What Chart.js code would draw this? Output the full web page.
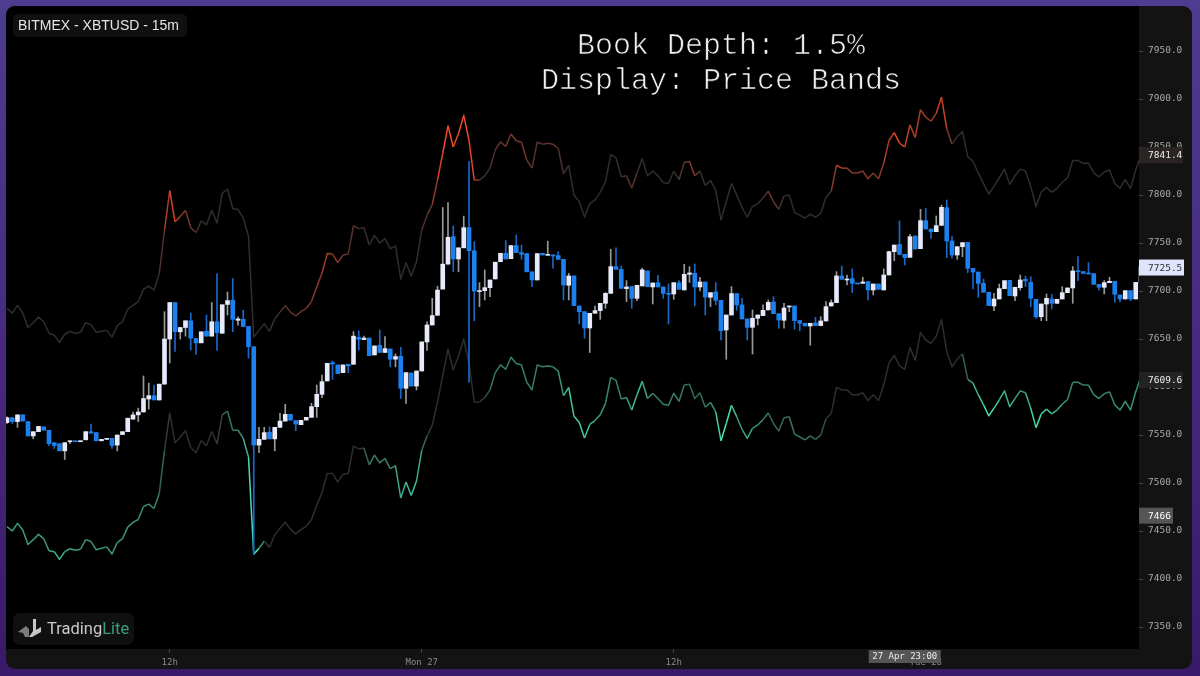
<!DOCTYPE html>
<html>
<head>
<meta charset="utf-8">
<title>Book Depth Price Bands</title>
<script src="https://cdn.jsdelivr.net/npm/chart.js@4/dist/chart.umd.min.js"></script>
<style>
	html, body { margin: 0; padding: 0; width: 1200px; height: 676px; overflow: hidden; }
	body { background: linear-gradient(to bottom, #4d3c8f 0%, #472a80 50%, #38196a 100%); }
	#panel { position: absolute; left: 6px; top: 6px; width: 1186px; height: 663px; background: #131313; border-radius: 9px; overflow: hidden; }
	#chart { position: absolute; left: -6px; top: -6px; }
</style>
</head>
<body>
<div id="panel"><canvas id="chart" width="1200" height="676"></canvas></div>
<script>
// 15m candles
const opens = [
	7563,7568,7564,7571,7564,7549,7553.5,7558.5,7555,7542,
	7541,7533.5,7543,7544,7543,7545,7553.5,7552.5,7544,7545.5,
	7546.5,7539.5,7550.5,7553.5,7566.5,7571,7574,7587.5,7591,7586.5,
	7603,7650,7688,7657.5,7662,7669,7650.5,7646,7658,7653,
	7668,7656,7686,7690.5,7669.5,7670.5,7663,7642,7539.5,7545.5,
	7553,7546,7558,7564.5,7571.5,7565,7560.8,7565.6,7568.4,7579.5,
	7592.4,7606.3,7625.4,7623,7615,7623.7,7623.7,7651.8,7649.4,7651,
	7633.4,7643.5,7636,7639.6,7629,7632,7598.7,7614.6,7601,7616.7,
	7647,7664.6,7674.7,7702,7728,7756.6,7733.4,7745,7766,7742,
	7699.4,7700.4,7703.5,7712.6,7730.6,7739.3,7733.7,7747.3,7740,7739,
	7720,7711.5,7739.3,7737.2,7737.6,7736.9,7733,7706,7715.7,7684.4,
	7678.5,7661.5,7676.8,7679.6,7687.2,7697.6,7725.4,7722.6,7702.5,7704.6,
	7692.4,7705.3,7720.9,7704.2,7708.7,7704.2,7697.6,7696.9,7708.7,7701.1,
	7717.4,7718.4,7704.2,7709.4,7693.5,7699,7690.3,7659.4,7675,7697.3,
	7685.5,7670.9,7662.2,7671.6,7674.4,7680.3,7688.6,7676.4,7669.5,7683.4,
	7684.4,7669.2,7666.4,7663.6,7666.7,7664,7668.8,7684.4,7687.9,7715.7,
	7711.5,7712.9,7708.4,7708,7709.8,7701.1,7707.3,7701.1,7716.7,7741,
	7748.6,7738.2,7735.1,7757.3,7744.1,7773.3,7764.6,7761.8,7768.4,7786.8,
	7752.1,7737.5,7746.2,7750.7,7723.6,7719.8,7708,7698.7,7684.4,7691.7,
	7702.5,7711.1,7694.8,7703.5,7712.2,7709.1,7691.4,7673.3,7686.5,7691.7,
	7687.2,7691.7,7698.3,7703.2,7720.9,7720.2,7718.4,7718.1,7707,7703.9,
	7708.7,7710.1,7695.9,7691.7,7700.4,7691.7,7709
];
const highs = [
	7569,7568,7571,7571,7564,7553.5,7559,7558.5,7555,7542,
	7541,7542,7544,7544,7544,7553.5,7561.5,7552.5,7545.5,7546.5,
	7546.5,7550,7553.5,7567.5,7574,7578,7611.5,7604,7602,7603,
	7678.5,7688,7688,7662,7669,7677,7650.5,7657.5,7675,7688,
	7718,7685.7,7699,7713,7673,7680,7663,7642,7558,7558,
	7558.5,7558,7572.5,7582,7571.5,7565,7565.3,7568.4,7583,7602,
	7612.5,7624.7,7627,7623,7623,7623.7,7657.7,7658.4,7653,7651,
	7642.8,7659.4,7652.5,7639.6,7634.4,7641.4,7615,7614.6,7616.7,7647,
	7668,7692.4,7705,7787,7792,7767.8,7745,7778,7835,7751.4,
	7708.7,7722,7711.5,7730,7739.3,7752.5,7747.3,7758.4,7748,7739,
	7720,7739,7739.3,7752,7737.6,7741,7733,7718.5,7715.7,7684.4,
	7678.5,7676.8,7684.4,7687.2,7698.3,7743.4,7745,7726,7710.8,7704.6,
	7706,7723.7,7720.9,7708.4,7716.4,7704.2,7707.3,7708.7,7710.8,7727.8,
	7725.4,7728.2,7714.3,7709.4,7698.3,7708.7,7690.3,7675,7704.6,7697.3,
	7692.4,7670.9,7680.3,7675,7685.5,7690.7,7694.1,7676.4,7687.2,7684.4,
	7684.4,7669.2,7666.4,7666.4,7672.6,7673.3,7688.9,7690.7,7720.2,7726.1,
	7716.7,7723,7708.4,7714.3,7709.8,7707.3,7707.3,7723,7741.5,7747.9,
	7772.9,7738.2,7759,7757.3,7785.1,7786.1,7764.6,7778.2,7789.6,7794.8,
	7756.6,7746.2,7750.4,7750.7,7723.6,7719.8,7712.5,7698.7,7697.6,7707.3,
	7710.8,7711.1,7703.9,7716.7,7715.7,7715,7691.4,7686.5,7696.9,7696.6,
	7691.4,7704.6,7703.2,7725.4,7735.8,7720.2,7729.5,7718.1,7707,7710.8,
	7714.3,7710.1,7695.9,7700.4,7700.4,7709,7725.5
];
const lows = [
	7562,7562,7558,7564.5,7549,7546,7553.5,7555,7539,7536,
	7533.5,7524.5,7541,7543,7543,7545,7552,7544,7544,7545.5,
	7536,7533.5,7550.5,7553.5,7566.5,7564,7574,7577,7586.5,7586.5,
	7603,7625,7637,7650,7653,7638.5,7634,7646,7653,7653,
	7638,7656,7675,7657.5,7664.5,7663,7630,7425.5,7531.5,7545.5,
	7546,7533.5,7558,7564.5,7565.5,7554.5,7560.8,7565.6,7568.4,7568.4,
	7589,7606.3,7608,7614,7615,7615,7623.7,7638.6,7649.4,7632.7,
	7633.4,7636,7636,7621,7621,7588,7583,7601,7597,7616.7,
	7638,7664.6,7674.7,7702,7728,7720,7720,7745,7605,7669,
	7683.7,7690.7,7694,7712.6,7730.6,7733.4,7733.7,7740,7733,7720,
	7704.6,7711.5,7737.6,7737.2,7723.7,7733,7690.7,7690.7,7684.8,7665.7,
	7650.8,7636,7676.8,7670.5,7682,7697.6,7722.6,7702.8,7689,7682,
	7690,7705.3,7704.6,7686.5,7704.2,7692.4,7665.7,7691.4,7701.8,7701.1,
	7709,7684.4,7700,7675,7683.7,7685.5,7649,7628.9,7675,7680,
	7670.9,7649,7634.4,7664.6,7674.4,7680.3,7676.4,7661.2,7661.2,7678.5,
	7660.1,7658.7,7663.6,7643.5,7664,7664,7668.8,7684.4,7687.9,7712.2,
	7706.3,7698.3,7707.3,7708,7690.7,7695.9,7701.8,7701.1,7716.7,7731.6,
	7738.2,7727.1,7735.1,7743.8,7744.1,7764.6,7754.9,7761.8,7768.4,7734.8,
	7734.1,7733,7735.8,7719.1,7702.1,7693.4,7698.7,7684.8,7679.6,7691.7,
	7702.5,7695.2,7690,7701,7704.6,7683.7,7671.6,7669.1,7669.1,7681.3,
	7687.2,7691.7,7698.3,7687.2,7710.8,7718.4,7717.7,7707,7701,7696.9,
	7708.7,7688.2,7688.9,7691.7,7690,7691.7,7709
];
const closes = [
	7568,7564,7571,7564.5,7549,7553.5,7559,7555,7541,7539,
	7533.5,7542,7544,7543,7544,7553.5,7552,7544,7545.5,7546.5,
	7539,7550,7553.5,7567.5,7571,7574,7588,7591,7586.5,7603,
	7650,7688,7657.5,7662,7669,7651,7646,7657.5,7653,7668,
	7656.5,7685.7,7690,7670.5,7671,7663,7642,7539.5,7545.5,7552.5,
	7546,7558,7564.5,7571.5,7565.5,7561.5,7565.3,7568.4,7579.5,7592.4,
	7605.6,7624.7,7624,7614,7623,7622,7653,7649.7,7651,7632.7,
	7642.8,7636,7640,7629,7631.7,7598.7,7615,7601,7616.7,7647,
	7664.6,7674.4,7701,7728,7756,7733.4,7745,7766,7742,7700,
	7700.4,7703.5,7711.5,7730,7739.3,7733.4,7747.3,7740,7738.2,7720,
	7711.5,7739,7737.6,7738.2,7736.5,7733,7706.3,7715.7,7684.8,7678.5,
	7661.5,7676.8,7679.6,7687.2,7697.6,7725.4,7722.6,7702.8,7704.2,7692.4,
	7706,7722,7704.6,7708.4,7704.2,7697.6,7696.6,7708.7,7701.8,7717.4,
	7718.8,7704.2,7709.4,7693.8,7698.3,7690.3,7658.7,7675,7697.3,7685.5,
	7670.9,7662.2,7671.6,7675,7679.9,7688.2,7676.4,7669.8,7682.3,7684.4,
	7669.2,7666.4,7663.6,7666.4,7664,7668.8,7683.7,7687.9,7715.7,7712.2,
	7712.5,7708,7707.3,7709.4,7701.1,7707.3,7701.8,7716.7,7741,7747.9,
	7738.2,7734.8,7756.6,7743.8,7773.3,7764.6,7761.8,7768.1,7787.2,7752.1,
	7737.5,7746.2,7750.4,7723.6,7719.8,7708,7698.7,7684.8,7691.7,7702.5,
	7710.8,7695.2,7703.9,7711.5,7710.5,7692.4,7673,7686.5,7692.4,7687.2,
	7691.4,7698.3,7703.2,7720.9,7720.2,7718.4,7717.7,7707,7703.9,7708.7,
	7710.1,7696.6,7691.7,7700.4,7691.7,7709,7725.5
];

// book depth bands
const upperBand = [
	7682,7677,7685,7677,7662,7667,7673,7668,7656,7654,
	7646.5,7655,7658,7656,7657,7667,7665,7657,7658,7659,
	7652,7664,7668,7681,7685,7689,7702,7705,7701,7718,
	7763.5,7804.5,7772,7778,7784,7766,7761,7773,7769,7784,
	7771,7802,7806,7786,7785,7776,7757,7652,7659,7666,
	7658,7671,7678,7685,7678,7674,7678.5,7682,7689,7704.5,
	7718.5,7739,7738.5,7729.5,7737.5,7738.5,7768,7765,7766,7748,
	7758,7750,7754.5,7744,7747,7712.5,7729.5,7715.5,7730.5,7763.5,
	7779,7790,7815.5,7843.5,7872,7850,7864,7883,7857,7815.5,
	7815.5,7820,7828,7847,7855.5,7850.5,7863.5,7856.5,7855,7836.5,
	7828,7855,7853,7854,7853,7848.5,7822,7831,7800,7793,
	7777,7791,7795,7803,7814,7842,7839,7819,7820,7807,
	7823,7838,7820,7825,7820,7813,7812,7825,7816,7834,
	7835,7820,7825,7810,7815,7805,7774,7793,7812,7800,
	7787,7777,7788,7791,7797,7804,7793,7785,7799,7800,
	7782,7779,7776,7780,7777,7781,7798,7804,7831,7828,
	7828,7823,7823,7825,7817,7823,7817,7833,7857,7865,
	7854,7850,7873,7860,7889,7881,7877,7885,7902,7869,
	7853,7861,7866,7840,7835,7823,7812,7801,7809,7818,
	7827,7811,7820,7827,7825,7809,7788,7803,7808,7803,
	7807,7813,7818,7836,7836,7833,7833,7823,7819,7824,
	7826,7812,7807,7816,7807,7826,7842
];
const lowerBand = [
	7454.5,7450,7458,7451,7436,7441,7446.5,7442,7429.5,7428.5,
	7420.5,7428.5,7431.5,7430,7431,7441,7439,7430.5,7432,7433.5,
	7426,7438,7442,7454,7459,7462,7475.5,7478,7473.5,7489,
	7534,7573,7542,7548,7554.5,7537,7531.5,7544,7539,7553.5,
	7541,7571,7575,7555,7555,7546.5,7527,7425.7,7432,7439.5,
	7433,7446,7453,7459,7452,7447,7451.5,7455,7462,7477,
	7490,7510,7510,7501,7509,7510,7538.5,7535.5,7536.5,7519,
	7529,7521,7525.5,7515,7518,7484.5,7501,7487,7502,7534,
	7549,7560,7584.5,7612,7639.5,7618,7632,7650,7625,7584.5,
	7584.5,7589,7597,7615,7623,7618.5,7631,7624.5,7623,7605,
	7597,7623,7621,7622,7621,7616.5,7591,7599.5,7569.5,7563,
	7547,7561,7565,7571,7583,7610,7607,7587.5,7589,7576,
	7592,7606,7588,7593.5,7588,7582,7581,7593.5,7585,7602,
	7603,7588,7594,7579,7584,7574,7544,7562,7581,7569,
	7556,7546.5,7557,7560.5,7566,7573,7562,7554,7568,7569,
	7551,7548,7545,7549,7545.5,7550,7567,7572.5,7599.5,7597,
	7597,7592,7592,7594,7586,7592,7586,7602,7625,7633,
	7622,7618.5,7641,7628,7657,7649,7645.5,7653,7670,7637,
	7621,7629,7634.5,7608,7604,7592,7581.5,7570,7578,7586.5,
	7596,7579.5,7588,7596,7594,7578,7557.7,7572,7577,7572,
	7576,7582,7587,7605,7605,7602,7602,7592,7588,7593,
	7595,7581.5,7576,7585,7576,7595,7611
];

// how much book depth sits on each band, 0 none, 1 most
const upperHeat = [
	0,0,0,0,0,0,0,0,0,0,
	0,0,0,0,0,0,0,0,0,0,
	0,0,0,0,0,0,0,0,0,0,
	.3,.9,.7,.5,.4,.3,.15,0,0,0,
	0,0,0,0,0,0,0,0,0,0,
	0,.05,.1,.2,.25,.25,.3,.3,.4,.45,
	.5,.6,.5,.4,.3,.2,.2,.1,.05,0,
	0,0,0,0,0,0,0,0,0,.1,
	.2,.3,.7,.9,1,.9,.9,1,.9,.8,
	.1,.05,.1,.2,.3,.3,.35,.35,.35,.3,
	.2,.2,.2,.25,.25,.2,.1,0,0,0,
	0,0,0,0,0,0,0,.05,.2,.25,
	.1,0,0,0,0,0,0,0,.1,.3,
	.45,.4,.1,0,0,0,0,0,0,0,
	0,0,0,0,.1,.3,.35,.2,0,0,
	0,0,0,0,0,0,0,.2,.7,.6,
	.5,.4,.4,.4,.45,.4,.4,.5,.7,.9,
	.8,.7,.7,.6,.6,.5,.5,.6,.8,.7,
	.05,0,0,0,0,0,0,0,0,0,
	0,0,0,0,0,0,0,0,0,0,
	0,0,0,0,0,0,0,0,0,0,
	0,0,0,0,0,0,0
];
const lowerHeat = [
	.55,.55,.55,.55,.55,.55,.55,.55,.6,.6,
	.75,.6,.6,.55,.55,.5,.5,.5,.5,.5,
	.6,.5,.5,.5,.5,.5,.45,.45,.45,.4,
	.15,0,0,0,0,0,0,0,0,0,
	0,.2,.3,.4,.4,.6,.75,1,.9,.1,
	0,0,0,0,0,0,0,0,0,0,
	0,0,0,0,0,0,0,0,.1,.4,
	.4,.4,.4,.4,.5,.7,.6,.8,.7,.5,
	.1,0,0,0,0,0,0,0,0,0,
	0,.1,.3,.4,.4,.4,.4,.4,.4,.4,
	.4,.4,.4,.4,.4,.45,.6,.7,.8,.8,
	.8,.7,.6,.5,.5,.4,.4,.4,.5,.6,
	.8,.7,.5,.4,.4,.4,.4,.4,.4,.35,
	.3,.3,.3,.35,.35,.6,1,.9,.9,.6,
	.5,.7,.5,.5,.5,.3,.25,.3,.3,.3,
	.4,.4,.4,.3,.35,.25,.1,0,0,0,
	0,0,0,0,0,0,0,0,0,0,
	0,0,0,0,0,0,0,0,0,0,
	0,0,0,.5,.6,.7,.8,1,.8,.7,
	.6,.7,.6,.5,.6,.7,1,.8,.7,.7,
	.6,.6,.5,.4,.4,.4,.4,.5,.5,.4,
	.4,.5,.5,.5,.5,.5,.5
];

// axes
const priceTicks = [7350,7400,7450,7500,7550,7600,7650,7700,7750,7800,7850,7900,7950];
const timeTicks = [31,79,127,175];
const timeTickLabels = ['12h','Mon 27','12h','Tue 28'];

// tags on the price axis
const upperLast = 7841.4;
const priceLast = 7725.5;
const lowerLast = 7609.6;
const crosshairPrice = 7466;
const crosshairIndex = 171;
const crosshairTime = '27 Apr 23:00';

const titleLines = ['Book Depth: 1.5%', 'Display: Price Bands'];
const symbolName = 'BITMEX - XBTUSD - 15m';

const MONO = '"DejaVu Sans Mono", monospace';
const GREY = [46, 46, 46];
const RED = [255, 72, 40];
const TEAL = [72, 245, 195];

function mixColor(to, t) {
	const c = GREY.map((g, i) => Math.round(g + (to[i] - g) * t));
	return 'rgb(' + c.join(',') + ')';
}

function bandDataset(values, heat, hot) {
	return {
		type: 'line',
		data: values.map((v, i) => ({ x: i, y: v })),
		borderWidth: 1.5,
		pointRadius: 0,
		tension: 0,
		borderJoinStyle: 'round',
		order: 3,
		segment: {
			borderColor: (c) => mixColor(hot, (heat[c.p0DataIndex] + heat[c.p1DataIndex]) / 2)
		}
	};
}

function isUp(i) {
	return closes[i] >= opens[i];
}

function drawTag(ctx, y, right, text, bg, color) {
	ctx.fillStyle = bg;
	ctx.fillRect(1139, y - 8, right - 1139, 16);
	ctx.fillStyle = color;
	ctx.font = '9.5px ' + MONO;
	ctx.textAlign = 'left';
	ctx.textBaseline = 'middle';
	ctx.fillText(text, 1148, y + 0.5);
}

function roundBox(ctx, x, y, w, h, r, color) {
	ctx.fillStyle = color;
	ctx.beginPath();
	ctx.roundRect(x, y, w, h, r);
	ctx.fill();
}

function drawLogo(ctx) {
	roundBox(ctx, 13, 613, 121, 32, 7, '#101010');
	ctx.fillStyle = '#7d7d7d';
	ctx.beginPath();
	ctx.moveTo(18, 632); ctx.lineTo(26, 626); ctx.lineTo(29, 629); ctx.lineTo(29, 637); ctx.lineTo(25, 637); ctx.lineTo(23, 633);
	ctx.closePath();
	ctx.fill();
	ctx.fillStyle = '#c8c8c8';
	ctx.beginPath();
	ctx.moveTo(33, 619); ctx.lineTo(36, 619); ctx.lineTo(36, 630); ctx.lineTo(41, 627); ctx.lineTo(41, 632);
	ctx.lineTo(32, 637); ctx.lineTo(29, 637); ctx.lineTo(33, 631);
	ctx.closePath();
	ctx.fill();
	ctx.font = '16.5px Roboto';
	ctx.textAlign = 'left';
	ctx.textBaseline = 'middle';
	ctx.fillStyle = '#c9c9c9';
	ctx.fillText('Trading', 47, 630);
	const w = ctx.measureText('Trading').width;
	ctx.fillStyle = '#3c9c80';
	ctx.fillText('Lite', 47 + w, 630);
}

const overlayPlugin = {
	id: 'overlay',
	beforeDraw(chart) {
		const ctx = chart.ctx;
		const a = chart.chartArea;
		ctx.fillStyle = '#000';
		ctx.fillRect(a.left, a.top, a.right - a.left, a.bottom - a.top);
	},
	afterDraw(chart) {
		const ctx = chart.ctx;
		const y = chart.scales.y;
		const x = chart.scales.x;
		ctx.save();

		// title, thinned with a black outline
		ctx.font = '30px "Liberation Mono"';
		ctx.textAlign = 'center';
		ctx.textBaseline = 'middle';
		ctx.strokeStyle = '#000';
		ctx.lineWidth = 0.7;
		ctx.fillStyle = '#f0f0f0';
		titleLines.forEach((line, i) => {
			ctx.fillText(line, 721, 46 + i * 35);
			ctx.strokeText(line, 721, 46 + i * 35);
		});

		roundBox(ctx, 13, 14, 174, 23, 5, '#101010');
		ctx.fillStyle = '#e6e6e6';
		ctx.font = '14px "Liberation Sans"';
		ctx.textAlign = 'left';
		ctx.textBaseline = 'middle';
		ctx.fillText(symbolName, 18, 26);

		drawLogo(ctx);

		drawTag(ctx, y.getPixelForValue(upperLast), 1183, upperLast.toFixed(1), '#2a2523', '#eee');
		drawTag(ctx, y.getPixelForValue(priceLast) + 1, 1184, priceLast.toFixed(1), '#dfe4fb', '#333');
		drawTag(ctx, y.getPixelForValue(lowerLast) + 2, 1183, lowerLast.toFixed(1), '#232323', '#eee');
		drawTag(ctx, y.getPixelForValue(crosshairPrice), 1173, String(crosshairPrice), '#555', '#fff');

		const cx = x.getPixelForValue(crosshairIndex);
		ctx.fillStyle = '#555';
		ctx.fillRect(cx - 36, 650, 72, 13);
		ctx.fillStyle = '#eee';
		ctx.font = '9px ' + MONO;
		ctx.textAlign = 'center';
		ctx.fillText(crosshairTime, cx, 657);
		ctx.restore();
	}
};

const candleIndex = opens.map((v, i) => i);

new Chart(document.getElementById('chart'), {
	type: 'bar',
	data: {
		datasets: [
			bandDataset(upperBand, upperHeat, RED),
			bandDataset(lowerBand, lowerHeat, TEAL),
			{
				// wicks
				data: candleIndex.map((i) => ({ x: i, y: [lows[i], highs[i]] })),
				backgroundColor: (c) => isUp(c.dataIndex) ? '#9a9a9a' : '#1a68c8',
				barThickness: 1,
				grouped: false,
				order: 2
			},
			{
				// bodies
				data: candleIndex.map((i) => ({ x: i, y: [opens[i], closes[i]] })),
				backgroundColor: (c) => isUp(c.dataIndex) ? '#e6eafa' : '#1c80ee',
				barThickness: 4,
				minBarLength: 1,
				grouped: false,
				order: 1
			}
		]
	},
	options: {
		responsive: false,
		animation: false,
		events: [],
		layout: { padding: { left: 6, top: 6 } },
		plugins: {
			legend: { display: false },
			tooltip: { enabled: false },
			title: { display: false }
		},
		scales: {
			x: {
				type: 'linear',
				offset: false,
				min: -0.19,
				max: 215.62,
				grid: { offset: false, drawOnChartArea: false, color: '#444', tickLength: 4 },
				border: { display: false },
				afterBuildTicks: (s) => { s.ticks = timeTicks.map((v) => ({ value: v })); },
				afterFit: (s) => { s.height = 27; s.paddingLeft = 0; s.paddingRight = 0; },
				ticks: {
					autoSkip: false,
					maxRotation: 0,
					padding: 4,
					color: '#8a8a8a',
					font: { family: MONO, size: 9 },
					callback: (v) => timeTickLabels[timeTicks.indexOf(v)]
				}
			},
			y: {
				type: 'linear',
				position: 'right',
				min: 7327.1,
				max: 7996.9,
				grid: { drawOnChartArea: false, color: '#444', tickLength: 4 },
				border: { display: false },
				afterBuildTicks: (s) => { s.ticks = priceTicks.map((v) => ({ value: v })); },
				afterFit: (s) => { s.width = 61; s.paddingTop = 0; s.paddingBottom = 0; },
				ticks: {
					autoSkip: false,
					padding: 5,
					color: '#a8a8a8',
					font: { family: MONO, size: 9.5 },
					callback: (v) => v.toFixed(1)
				}
			}
		}
	},
	plugins: [overlayPlugin]
});
</script>
</body>
</html>
